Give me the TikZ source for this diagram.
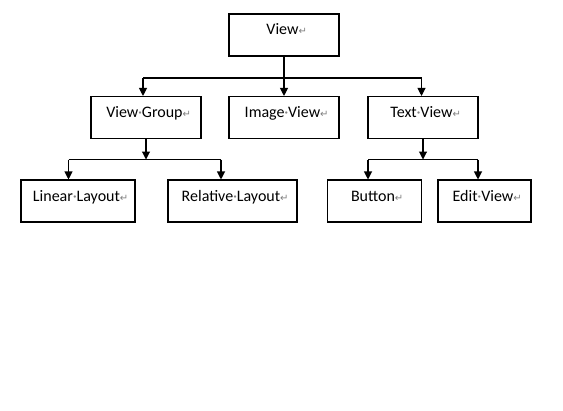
\documentclass[tikz,border=0pt]{standalone}
\usepackage{fontspec}
\setmainfont{Carlito}
\newfontfamily\markfont{DejaVu Sans}
\usetikzlibrary{arrows.meta}

% word-style formatting marks
\newcommand{\dt}{\makebox[0.226em]{\color{gray}\textperiodcentered}}
\newcommand{\mk}{{\markfont\fontsize{7.5pt}{7.5pt}\selectfont\color{gray}\char"21B5}}

\begin{document}
\begin{tikzpicture}[x=0.75pt,y=-0.75pt,line width=0.8pt,>={Triangle[length=6pt,width=6pt]}]
    \tikzstyle{box}=[rectangle,draw=black,minimum height=31.5pt,inner sep=0pt,
        text height=8pt,text depth=8pt,font=\fontsize{12pt}{14pt}\selectfont]
    \useasboundingbox (0,0) rectangle (563,410);

    \foreach \name/\x/\y/\w/\txt in {view/284/35/110/View, vg/146/117.5/110/View\dt Group,
            image/284/117.5/110/Image\dt View, text/423/117.5/110/Text\dt View,
            linear/78/201/114/Linear\dt Layout, relative/232.5/201/129/Relative\dt Layout,
            button/374.5/201/94.5/Button, edit/484.5/201/93/Edit\dt View}
        \node[box,minimum width=\w*0.75pt] (\name) at (\x,\y) {\hspace{4pt}\txt\mk};

    % top level
    \coordinate (tl) at (143,78);
    \coordinate (tr) at (421.5,78);
    \draw (view) -- (view |- tl);
    \draw (tl) -- (tr);
    \draw[->] (tl) -- (tl |- vg.north);
    \draw[->] (view |- tl) -- (image);
    \draw[->] (tr) -- (tr |- text.north);

    % under view group and text view
    \foreach \from/\l/\r/\left/\right in {vg/68.5/221/linear/relative, text/368/478/button/edit} {
        \coordinate (\from-l) at (\l,159.5);
        \coordinate (\from-r) at (\r,159.5);
        \draw[->] (\from) -- (\from |- \from-l);
        \draw (\from-l) -- (\from-r);
        \draw[->] (\from-l) -- (\from-l |- \left.north);
        \draw[->] (\from-r) -- (\from-r |- \right.north);
    }
\end{tikzpicture}
\end{document}
